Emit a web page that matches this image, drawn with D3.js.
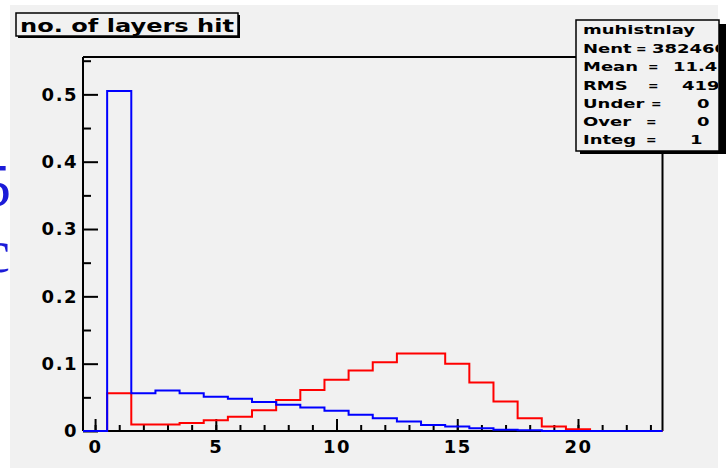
<!DOCTYPE html>
<html>
<head>
<meta charset="utf-8">
<script src="https://cdn.jsdelivr.net/npm/d3@7"></script>
<style>
  html, body { margin: 0; padding: 0; background: #ffffff; }
  svg { display: block; }
  .lbl { font-family: "DejaVu Sans", sans-serif; font-weight: bold; fill: #000; }
</style>
</head>
<body>
<svg id="chart" width="728" height="472"></svg>
<script>
// Bin centres of the "no. of layers hit" histogram (unit-wide bins, -0.5 .. 23.5)
const binCentres = d3.range(0, 24);

// Normalised bin contents (each series integrates to 1)
const blueValues = [0, 0.505, 0.056, 0.060, 0.056, 0.051, 0.048, 0.043, 0.039, 0.035,
                    0.030, 0.024, 0.019, 0.014, 0.009, 0.0065, 0.004, 0.002, 0.0012,
                    0, 0, 0, 0, 0];
const redValues  = [0, 0.056, 0.0095, 0.0095, 0.012, 0.016, 0.021, 0.031, 0.046, 0.061,
                    0.076, 0.090, 0.102, 0.115, 0.115, 0.100, 0.072, 0.044, 0.019,
                    0.0065, 0.0025, 0, 0, 0];

// Axis ticks
const xMajorTicks = [0, 5, 10, 15, 20];
const xMinorTicks = d3.range(0, 24);
const yMajorTicks = [0, 0.1, 0.2, 0.3, 0.4, 0.5];
const yMinorTicks = [0.05, 0.15, 0.25, 0.35, 0.45, 0.55];

// Statistics box contents
const statsTitle = "muhistnlay";
const statsLabels = ["Nent", "Mean", "RMS", "Under", "Over", "Integ"];
const statsValues = ["382460", "11.43", "419", "0", "0", "1"];

const titleText = "no. of layers hit";

const svg = d3.select("#chart");

// pad background
svg.append("rect").attr("x", 10).attr("y", 5).attr("width", 708).attr("height", 463)
   .attr("fill", "#f1f1f1");

// fragments of slide text behind the pad, at the left edge
svg.append("text").attr("x", 11).attr("y", 206).attr("text-anchor", "end")
   .attr("font-family", "Liberation Serif, serif").attr("font-size", 61)
   .attr("fill", "#1c1cd8").text("5");
svg.append("text").attr("x", 10).attr("y", 272).attr("text-anchor", "end")
   .attr("font-family", "Liberation Serif, serif").attr("font-size", 61)
   .attr("fill", "#1c1cd8").text("c");

const x = d3.scaleLinear().domain([-0.5, 23.5]).range([83, 662.5]);
const y = d3.scaleLinear().domain([0, 0.5555]).range([431, 57]);

// y axis: ticks point into the frame
const yAxisMajor = d3.axisLeft(y).tickValues(yMajorTicks)
  .tickSizeInner(-15).tickSizeOuter(0).tickPadding(5)
  .tickFormat(d => d === 0 ? "0" : d3.format(".1f")(d));
const yAxisMinor = d3.axisLeft(y).tickValues(yMinorTicks)
  .tickSizeInner(-8).tickSizeOuter(0).tickFormat("");

const gy = svg.append("g").attr("transform", `translate(${x(-0.5)},0)`).call(yAxisMajor);
const gy2 = svg.append("g").attr("transform", `translate(${x(-0.5)},0)`).call(yAxisMinor);

// x axis: ticks point up into the frame
const xAxisMajor = d3.axisBottom(x).tickValues(xMajorTicks)
  .tickSizeInner(-12).tickSizeOuter(0).tickPadding(9).tickFormat(d3.format("d"));
const xAxisMinor = d3.axisBottom(x).tickValues(xMinorTicks)
  .tickSizeInner(-6).tickSizeOuter(0).tickFormat("");

const gx = svg.append("g").attr("transform", `translate(0,${y(0)})`).call(xAxisMajor);
const gx2 = svg.append("g").attr("transform", `translate(0,${y(0)})`).call(xAxisMinor);

[gy, gy2, gx, gx2].forEach(g => {
  g.select(".domain").remove();
  g.selectAll(".tick line").attr("stroke", "#000").attr("stroke-width", 2);
  g.selectAll(".tick text").attr("class", "lbl")
    .attr("font-size", 18).style("letter-spacing", "1.5px").attr("fill", "#000");
});

// frame
const frame = svg.append("g").attr("stroke", "#000").attr("stroke-width", 2).attr("fill", "none");
frame.append("line").attr("x1", x(-0.5)).attr("x2", x(-0.5)).attr("y1", y.range()[1]).attr("y2", y(0));
frame.append("line").attr("x1", x(-0.5)).attr("x2", x(23.5)).attr("y1", y(0)).attr("y2", y(0));
frame.append("line").attr("x1", x(-0.5)).attr("x2", 577).attr("y1", y.range()[1]).attr("y2", y.range()[1]);
frame.append("line").attr("x1", x(23.5)).attr("x2", x(23.5)).attr("y1", 152).attr("y2", y(0));

// histogram outlines
function stepPoints(values) {
  const pts = binCentres.map((c, i) => [c - 0.5, values[i]]);
  pts.push([binCentres[binCentres.length - 1] + 0.5, values[values.length - 1]]);
  return pts;
}
const stepLine = d3.line().x(d => x(d[0])).y(d => y(d[1])).curve(d3.curveStepAfter);

svg.append("path").attr("d", stepLine(stepPoints(redValues)))
   .attr("fill", "none").attr("stroke", "#ff0000").attr("stroke-width", 2);
svg.append("path").attr("d", stepLine(stepPoints(blueValues)))
   .attr("fill", "none").attr("stroke", "#0000ff").attr("stroke-width", 2);

// title box with shadow
const tb = svg.append("g");
tb.append("rect").attr("x", 18).attr("y", 15).attr("width", 222).attr("height", 23).attr("fill", "#000");
tb.append("rect").attr("x", 16).attr("y", 13).attr("width", 222).attr("height", 23)
  .attr("fill", "#f1f1f1").attr("stroke", "#000").attr("stroke-width", 1.5);
tb.append("text").attr("class", "lbl").attr("x", 20).attr("y", 32)
  .attr("font-size", 18).attr("textLength", 214).attr("lengthAdjust", "spacingAndGlyphs")
  .text(titleText);

// statistics box with shadow
const sb = svg.append("g");
sb.append("rect").attr("x", 580).attr("y", 24).attr("width", 146).attr("height", 130).attr("fill", "#000");
sb.append("rect").attr("x", 576).attr("y", 20).attr("width", 143).attr("height", 131)
  .attr("fill", "#f1f1f1").attr("stroke", "#000").attr("stroke-width", 1.5);

svg.append("clipPath").attr("id", "statsClip")
   .append("rect").attr("x", 577).attr("y", 21).attr("width", 141).attr("height", 129);
const st = sb.append("g").attr("clip-path", "url(#statsClip)");

function stretched(g, px, py, txt, sx) {
  g.append("text").attr("class", "lbl").attr("font-size", 12)
    .attr("transform", `translate(${px},${py}) scale(${sx},1)`).text(txt);
}
const rowY = [53, 71, 90, 108, 126, 144];
const eqX = [636, 648, 648, 651, 646, 646];
const valX = [652, 673, 682, 697, 697, 690];
stretched(st, 583, 34, statsTitle, 1.5);
statsLabels.forEach((lab, i) => {
  stretched(st, 583, rowY[i], lab, 1.5);
  stretched(st, eqX[i], rowY[i], "=", 1.05);
  stretched(st, valX[i], rowY[i], statsValues[i], 1.5);
});
</script>
</body>
</html>
